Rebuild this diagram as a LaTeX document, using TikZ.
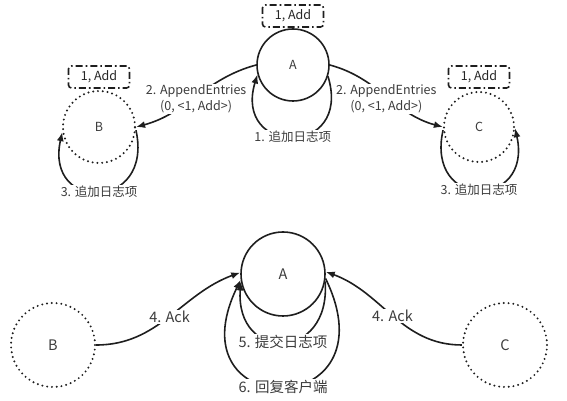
\documentclass[tikz,border=0pt]{standalone}
\usepackage{fontspec}
\setmainfont{Noto Sans CJK SC}
\usetikzlibrary{arrows.meta}
\definecolor{color_line}{RGB}{30,30,30}
\definecolor{color_text}{RGB}{60,60,60}

\begin{document}
\begin{tikzpicture}[x=1pt,y=1pt,
leader/.style={circle,draw=color_line,line width=1.6pt,inner sep=0pt,text=color_text},
follower/.style={circle,draw=color_line,line width=2.2pt,dash pattern=on 0pt off 4.8pt,line cap=round,inner sep=0pt,text=color_text},
entry/.style={draw=color_line,line width=1.6pt,rounded corners=3pt,dash pattern=on 7pt off 3pt on 1.6pt off 3pt,minimum width=61pt,minimum height=22pt,inner sep=0pt,text=black!85,font=\fontsize{12.5}{14}\selectfont},
msg/.style={fill=white,align=center,inner sep=1pt,text=color_text},
arr/.style={draw=color_line,line width=1.6pt,-{Latex[length=9pt,width=7pt]}},
small/.style={font=\fontsize{12.5}{15.5}\selectfont},
big/.style={font=\fontsize{14.5}{17}\selectfont}]
\useasboundingbox (0,0) rectangle (567,401);
% TOP ROW
\node[leader,minimum size=72pt,small] (A1) at (293,336) {A};
\node[entry] (eA) at (293,385) {1, Add};
\node[follower,minimum size=72pt,small] (B1) at (99,274) {B};
\node[entry] (eB) at (99,324) {1, Add};
\node[follower,minimum size=70pt,small] (C1) at (479,274) {C};
\node[entry] (eC) at (479,324) {1, Add};
% append entries
\draw[arr] (A1.west) to[out=195,in=15] node[msg,small,midway,yshift=-3pt] {2. AppendEntries\\(0, <1, Add>)} (B1.east);
\draw[arr] (A1.east) to[out=-15,in=165] node[msg,small,midway,yshift=-3pt] {2. AppendEntries\\(0, <1, Add>)} (C1.west);
% append locally
\draw[arr] (A1.-18) .. controls +(25,-82) and +(-25,-82) .. (A1.195) node[msg,small,midway] {1. 追加日志项};
\draw[arr] (B1.-5) .. controls +(18,-81) and +(-18,-81) .. (B1.188) node[msg,small,midway] {3. 追加日志项};
\draw[arr] (C1.185) .. controls +(-18,-81) and +(18,-81) .. (C1.-2) node[msg,small,midway] {3. 追加日志项};
% BOTTOM ROW
\node[leader,minimum size=84pt,big] (A2) at (283,127) {A};
\node[follower,minimum size=84pt,big] (B2) at (53,56) {B};
\node[follower,minimum size=84pt,big] (C2) at (505,56) {C};
% acks
\draw[arr] (B2.east) to[out=0,in=200] node[msg,big,midway] {4. Ack} (A2.178);
\draw[arr] (C2.west) to[out=180,in=-20] node[msg,big,midway] {4. Ack} (A2.3);
% commit and reply
\draw[arr] (A2.-6) .. controls +(70,-144) and +(-70,-144) .. (A2.188) node[msg,big,midway] {6. 回复客户端};
\draw[arr] (A2.-10) .. controls +(6,-81) and +(-6,-81) .. (A2.190) node[msg,big,midway] {5. 提交日志项};
\end{tikzpicture}
\end{document}
